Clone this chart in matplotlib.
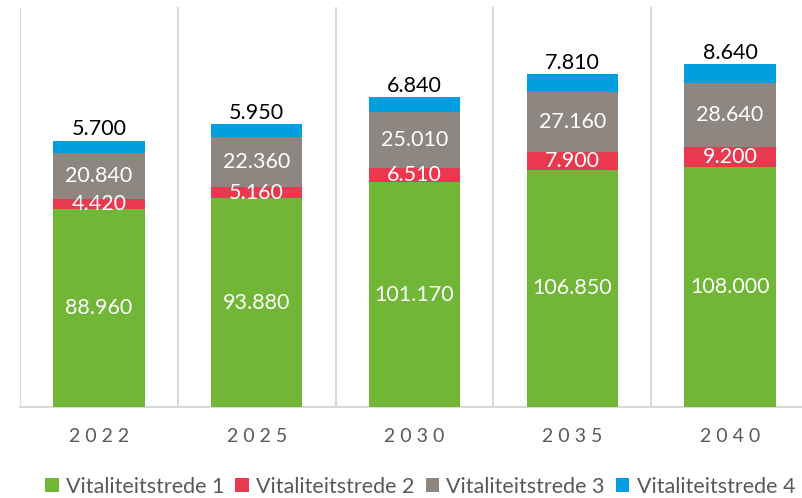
import matplotlib
matplotlib.use("Agg")
import matplotlib.pyplot as plt
import numpy as np

years = ["2022", "2025", "2030", "2035", "2040"]
series = ["Vitaliteitstrede 1", "Vitaliteitstrede 2", "Vitaliteitstrede 3", "Vitaliteitstrede 4"]
trede1 = [88960, 93880, 101170, 106850, 108000]
trede2 = [4420, 5160, 6510, 7900, 9200]
trede3 = [20840, 22360, 25010, 27160, 28640]
trede4 = [5700, 5950, 6840, 7810, 8640]
colors = ["#72B637", "#E8394F", "#8E8781", "#00A0E0"]

plt.rcParams["font.family"] = ["Lato", "DejaVu Sans"]


def fmt(v):
    return f"{v:,}".replace(",", ".")


fig = plt.figure(figsize=(8.02, 4.98), dpi=100)
# rechterrand valt net buiten het beeld, zoals in het origineel
ax = fig.add_axes([20 / 802, 1 - 407 / 498, 789 / 802, 400 / 498])

x = np.arange(len(years))
bottom = np.zeros(len(years))
data = [trede1, trede2, trede3, trede4]
for i, (vals, c, name) in enumerate(zip(data, colors, series)):
    vals = np.array(vals)
    ax.bar(x, vals, 0.58, bottom=bottom, color=c, label=name, zorder=3)
    for xi, b, v in zip(x, bottom, vals):
        if i == 3:
            ax.text(xi, b + v + 500, fmt(v), ha="center", va="bottom",
                    fontsize=15.5, color="black", zorder=4)
        else:
            ax.text(xi, b + v / 2, fmt(v), ha="center", va="center",
                    fontsize=15.5, color="white", zorder=4)
    bottom += vals

ax.set_xlim(-0.5, len(years) - 0.5)
ax.set_ylim(0, 180000)
ax.set_yticks([])
ax.set_xticks(x)
ax.set_xticklabels([" ".join(y) for y in years], fontsize=14, color="#595959")
ax.tick_params(axis="x", length=0, pad=15)
ax.set_xticks(np.arange(-0.5, len(years)), minor=True)
ax.tick_params(axis="x", which="minor", length=0)
ax.grid(True, which="minor", axis="x", color="#D9D9D9", lw=1.5, zorder=0)
for s in ["top", "left", "right"]:
    ax.spines[s].set_visible(False)
ax.spines["bottom"].set_color("#D9D9D9")
ax.spines["bottom"].set_linewidth(1.5)

leg = fig.legend(loc="center", bbox_to_anchor=(0.524, 1 - 487 / 498), ncol=4,
                 frameon=False, fontsize=15.5, handlelength=0.62, handleheight=0.62,
                 handletextpad=0.35, columnspacing=0.5)
for t in leg.get_texts():
    t.set_color("#595959")

fig.savefig("out.png", dpi=100)
